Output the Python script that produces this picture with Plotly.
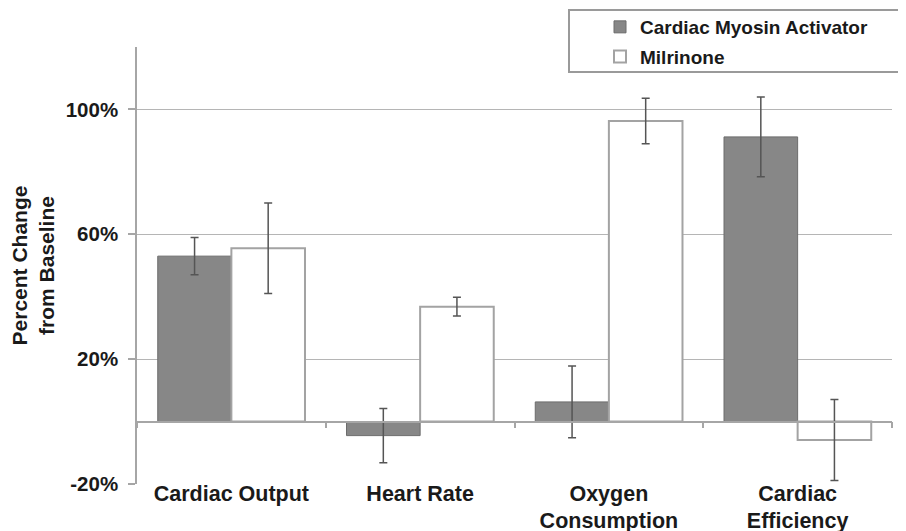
import plotly.graph_objects as go

categories = ["Cardiac Output", "Heart Rate", "Oxygen<br>Consumption", "Cardiac<br>Efficiency"]
activator = [53, -4.5, 6.3, 91.2]
activator_err = [6, 8.7, 11.5, 12.8]
milrinone = [55.5, 36.8, 96.3, -5.9]
milrinone_err = [14.5, 3, 7.3, 13]
y_ticks = [-20, 20, 60, 100]
y_tick_labels = ["-20%", "20%", "60%", "100%"]
y_range = [-20, 120]

FONT = "Liberation Sans, Arial, sans-serif"
AX = "#a6a6a6"
TXT = "#1a1a1a"

# plot-area geometry (figure pixels)
L, R, T, B = 129, 22, 39, 55
PW, PH = 906 - L - R, 531 - T - B

fig = go.Figure()
fig.add_trace(go.Bar(
    x=categories, y=activator, name="Cardiac Myosin Activator",
    marker=dict(color="#878787", line=dict(color="#6c6c6c", width=1)),
    error_y=dict(type="data", array=activator_err, color="#555555", thickness=1.5, width=4),
    legendgroup="a",
))
fig.add_trace(go.Bar(
    x=categories, y=milrinone, name="Milrinone",
    marker=dict(color="#ffffff", line=dict(color="#a3a3a3", width=2)),
    error_y=dict(type="data", array=milrinone_err, color="#555555", thickness=1.5, width=4),
    legendgroup="b",
))
# helper trace to carry the zero-crossing category axis
fig.add_trace(go.Scatter(
    x=categories, y=activator, xaxis="x2", mode="markers",
    marker=dict(size=0.1, opacity=0), showlegend=False, hoverinfo="skip",
))

zero_pos = (0 - y_range[0]) / (y_range[1] - y_range[0])

fig.update_layout(
    width=906, height=531,
    margin=dict(l=L, r=R, t=T, b=B, autoexpand=False),
    paper_bgcolor="white", plot_bgcolor="white",
    barmode="group", bargap=0.22, bargroupgap=0,
    font=dict(family=FONT, color=TXT),
    xaxis=dict(
        type="category", categoryorder="array", categoryarray=categories,
        range=[-0.5, 3.5], showline=False, ticks="", showgrid=False, zeroline=False,
        automargin=False, ticklabelstandoff=-6,
        tickfont=dict(size=21.5, family=FONT, weight="bold", color=TXT),
    ),
    xaxis2=dict(
        type="category", categoryorder="array", categoryarray=categories,
        range=[-0.5, 3.5], overlaying="x", anchor="free", position=zero_pos,
        side="bottom", showline=True, linecolor=AX, linewidth=1.5,
        ticks="outside", tickson="boundaries", ticklen=6, tickcolor=AX, tickwidth=1.5,
        showticklabels=False, showgrid=False, zeroline=False, automargin=False,
    ),
    yaxis=dict(
        range=y_range, tickvals=y_ticks, ticktext=y_tick_labels,
        showline=True, linecolor=AX, linewidth=1.5,
        ticks="outside", ticklen=7, tickcolor=AX, tickwidth=1.5,
        showgrid=True, gridcolor="#b5b5b5", gridwidth=1.2, zeroline=False,
        automargin=False,
        tickfont=dict(size=20.5, family=FONT, weight="bold", color=TXT),
        ticklabelstandoff=6,
        title=dict(text="Percent Change<br>from Baseline", standoff=8,
                   font=dict(size=21, family=FONT, weight="bold", color=TXT)),
    ),
    legend=dict(
        xref="container", yref="container",
        x=592 / 906, y=1 + 4 / 531, xanchor="left", yanchor="top",
        bgcolor="rgba(0,0,0,0)", borderwidth=0,
        font=dict(size=19, family=FONT, weight="bold", color=TXT),
        tracegroupgap=2, itemwidth=30,
    ),
    shapes=[dict(
        type="rect", xref="paper", yref="paper",
        x0=(561 - L) / PW, x1=(904 - L) / PW,
        y0=(531 - B - 64) / PH, y1=(531 - B - 2) / PH,
        line=dict(color="#9a9a9a", width=2), fillcolor="rgba(0,0,0,0)",
        layer="below",
    )],
)

fig.write_html("out.html")
